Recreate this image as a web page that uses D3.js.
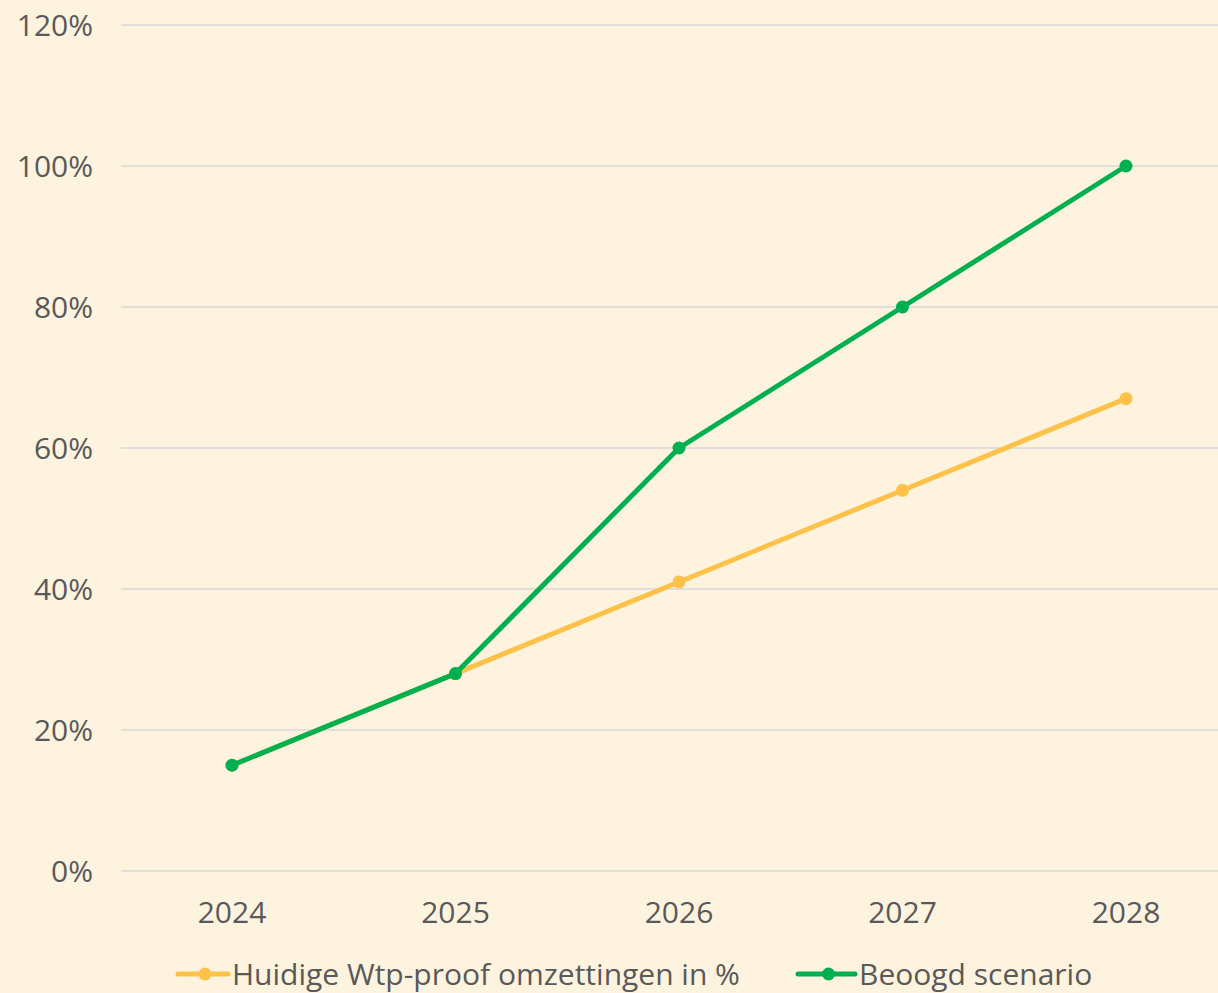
<!DOCTYPE html>
<html>
<head>
<meta charset="utf-8">
<script src="https://cdn.jsdelivr.net/npm/d3@7"></script>
<style>
  html, body { margin: 0; padding: 0; background: #fef3de; }
  svg { display: block; font-family: "Open Sans", "Liberation Sans", sans-serif; }
</style>
</head>
<body>
<div id="chart"></div>
<script>
const years = ["2024", "2025", "2026", "2027", "2028"]
const current = [15, 28, 41, 54, 67]
const target = [15, 28, 60, 80, 100]
const yTicks = [0, 20, 40, 60, 80, 100, 120]

const series = [
  {name: "Huidige Wtp-proof omzettingen in %", values: current, color: "#fdc24a"},
  {name: "Beoogd scenario", values: target, color: "#00b050"}
]

const width = 1218, height = 993
const svg = d3.select("#chart").append("svg")
  .attr("width", width)
  .attr("height", height)

svg.append("rect").attr("width", width).attr("height", height).attr("fill", "#fef3de")

const x = d3.scalePoint(years, [232, 1126])
const y = d3.scaleLinear([0, 120], [871, 25])

// gridlines
svg.append("g")
  .selectAll("line")
  .data(yTicks)
  .join("line")
  .attr("x1", 121).attr("x2", width)
  .attr("y1", d => y(d)).attr("y2", d => y(d))
  .attr("stroke", "#d9d9d9")
  .attr("stroke-width", 1.5)

// y labels
svg.append("g")
  .selectAll("text")
  .data(yTicks)
  .join("text")
  .attr("x", 93)
  .attr("y", d => y(d) + 10.5)
  .attr("text-anchor", "end")
  .attr("font-size", 30)
  .attr("fill", "#595959")
  .text(d => d + "%")

// x labels
svg.append("g")
  .selectAll("text")
  .data(years)
  .join("text")
  .attr("x", d => x(d))
  .attr("y", 923)
  .attr("text-anchor", "middle")
  .attr("font-size", 30)
  .attr("fill", "#595959")
  .text(d => d)

const line = d3.line()
  .x((d, i) => x(years[i]))
  .y(d => y(d))

series.forEach(s => {
  const g = svg.append("g")
  g.append("path")
    .datum(s.values)
    .attr("fill", "none")
    .attr("stroke", s.color)
    .attr("stroke-width", 5)
    .attr("stroke-linejoin", "round")
    .attr("d", line)
  g.selectAll("circle")
    .data(s.values)
    .join("circle")
    .attr("cx", (d, i) => x(years[i]))
    .attr("cy", d => y(d))
    .attr("r", 6.5)
    .attr("fill", s.color)
})

// legend
const legendX = [178, 798]
const legendLen = [50, 57]
series.forEach((s, i) => {
  const g = svg.append("g").attr("transform", `translate(${legendX[i]},974)`)
  g.append("line")
    .attr("x1", 0).attr("x2", legendLen[i])
    .attr("stroke", s.color).attr("stroke-width", 5)
    .attr("stroke-linecap", "round")
  g.append("circle").attr("cx", legendLen[i] / 2 + 2).attr("r", 6.5).attr("fill", s.color)
  g.append("text")
    .attr("x", legendLen[i] + 4).attr("y", 11)
    .attr("font-size", 30)
    .attr("fill", "#595959")
    .text(s.name)
})
</script>
</body>
</html>
